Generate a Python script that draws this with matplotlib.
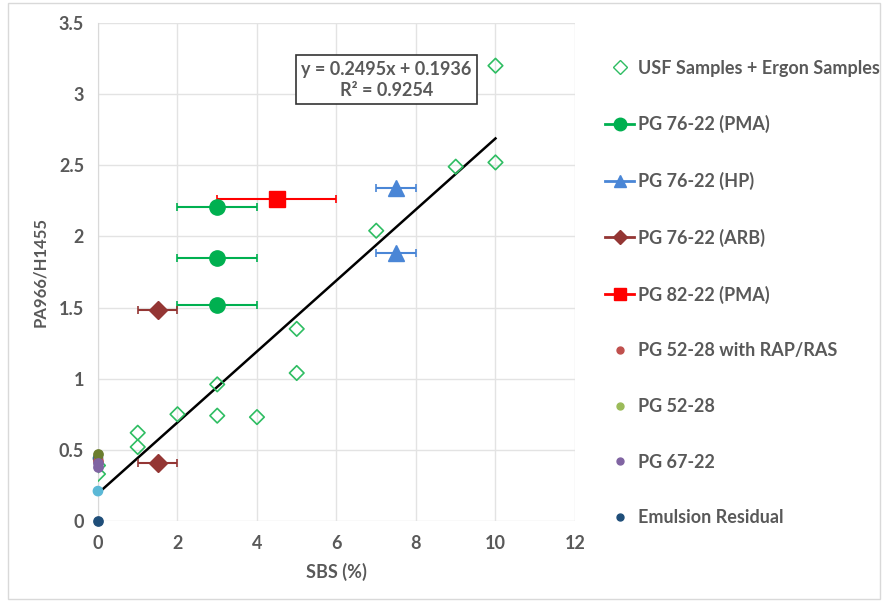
#!/usr/bin/env python3

import matplotlib
matplotlib.use("Agg")
import matplotlib.pyplot as plt
from matplotlib.lines import Line2D
from matplotlib.patches import Rectangle
import numpy as np

plt.rcParams["font.family"] = ["Lato", "DejaVu Sans"]
plt.rcParams["font.weight"] = "bold"
plt.rcParams["axes.labelweight"] = "bold"

GRAY = "#595959"

# USF + Ergon samples (open diamonds)
usf_x = [10, 10, 9, 7, 5, 5, 3, 3, 4, 2, 1, 1, 0, 0]
usf_y = [3.20, 2.52, 2.49, 2.04, 1.35, 1.04, 0.96, 0.74, 0.73, 0.75, 0.62, 0.52, 0.39, 0.33]

# PG 76-22 (PMA)
pma_x = [3, 3, 3]
pma_y = [2.21, 1.85, 1.52]
pma_err = [1, 1, 1]

# PG 76-22 (HP)
hp_x = [7.5, 7.5]
hp_y = [2.34, 1.88]
hp_err = [0.5, 0.5]

# PG 76-22 (ARB)
arb_x = [1.5, 1.5]
arb_y = [1.48, 0.41]
arb_err = [0.5, 0.5]

# PG 82-22 (PMA)
p82_x = [4.5]
p82_y = [2.26]
p82_err = [1.5]

# small dots at SBS = 0
rap_x, rap_y = [0], [0.42]
p5228_x, p5228_y = [0], [0.47]
p6722_x, p6722_y = [0, 0], [0.41, 0.38]
emul_x, emul_y = [0], [0.0]
other_x, other_y = [0, 0], [0.21, 0.44]

# trendline from the chart label
slope, intercept = 0.2495, 0.1936
fit_x = np.array([0, 10])

fig = plt.figure(figsize=(8.85, 6.02), dpi=100)
fig.patches.append(Rectangle((0.009, 0.005), 0.985, 0.99, transform=fig.transFigure,
                             fill=False, edgecolor="#d9d9d9", linewidth=1))
ax = fig.add_axes([0.1107, 0.1346, 0.5390, 0.8272])

ax.plot(fit_x, slope * fit_x + intercept, color="black", linewidth=1.8, zorder=2)

ax.scatter(usf_x, usf_y, marker="D", s=55, facecolors="none", edgecolors="#2ebd62",
           linewidths=1.2, zorder=3)
ax.errorbar(pma_x, pma_y, xerr=pma_err, fmt="o", color="#00b050", ms=11, capsize=3,
            elinewidth=1.5, capthick=1.2, zorder=4)
ax.errorbar(hp_x, hp_y, xerr=hp_err, fmt="^", color="#4a86d6", ms=11, capsize=3,
            elinewidth=1.5, capthick=1.2, zorder=4)
ax.errorbar(arb_x, arb_y, xerr=arb_err, fmt="D", color="#943634", ms=9, capsize=3,
            elinewidth=1.5, capthick=1.2, zorder=4)
ax.errorbar(p82_x, p82_y, xerr=p82_err, fmt="s", color="#ff0000", ms=12, capsize=3,
            elinewidth=1.5, capthick=1.2, zorder=4)

ax.scatter(other_x, other_y, s=45, color=["#5bb8d6", "#3a6a8f"], zorder=3, clip_on=False)
ax.scatter(rap_x, rap_y, s=45, color="#c0504d", zorder=3, clip_on=False)
ax.scatter(p5228_x, p5228_y, s=45, color="#6b7d2e", zorder=3, clip_on=False)
ax.scatter(p6722_x, p6722_y, s=45, color="#8064a2", zorder=3, clip_on=False)
ax.scatter(emul_x, emul_y, s=45, color="#1f4e79", zorder=5, clip_on=False)

ax.set_xlim(0, 12)
ax.set_ylim(0, 3.5)
ax.set_xticks(range(0, 13, 2))
ax.set_yticks(np.arange(0, 3.51, 0.5))
ax.set_yticklabels(["0", "0.5", "1", "1.5", "2", "2.5", "3", "3.5"])
ax.grid(True, color="#e3e3e3", linewidth=1)
ax.set_axisbelow(True)
for s in ["top", "right", "bottom"]:
    ax.spines[s].set_visible(False)
ax.spines["left"].set_color("#d9d9d9")
ax.tick_params(length=0, labelsize=13, labelcolor=GRAY, pad=10)
ax.set_xlabel("SBS (%)", fontsize=13, color=GRAY, labelpad=8)
ax.set_ylabel("PA966/H1455", fontsize=12, color=GRAY, labelpad=8)

ax.text(7.26, 3.10, "y = 0.2495x + 0.1936\nR² = 0.9254", ha="center", va="center",
        fontsize=13, color=GRAY, linespacing=1.3,
        bbox=dict(boxstyle="square,pad=0.3", facecolor="white", edgecolor="#333333", linewidth=1.2))

handles = [
    Line2D([], [], marker="D", ls="none", mfc="none", mec="#2ebd62", ms=7),
    Line2D([], [], marker="o", color="#00b050", lw=2, ms=9),
    Line2D([], [], marker="^", color="#4a86d6", lw=2, ms=9),
    Line2D([], [], marker="D", color="#943634", lw=2, ms=7),
    Line2D([], [], marker="s", color="#ff0000", lw=2, ms=9),
    Line2D([], [], marker="o", ls="none", color="#c0504d", ms=5),
    Line2D([], [], marker="o", ls="none", color="#9bbb59", ms=5),
    Line2D([], [], marker="o", ls="none", color="#8064a2", ms=5),
    Line2D([], [], marker="o", ls="none", color="#1f4e79", ms=5),
]
labels = ["USF Samples + Ergon Samples", "PG 76-22 (PMA)", "PG 76-22 (HP)",
          "PG 76-22 (ARB)", "PG 82-22 (PMA)", "PG 52-28 with RAP/RAS", "PG 52-28",
          "PG 67-22", "Emulsion Residual"]
leg = fig.legend(handles, labels, loc="upper left", bbox_to_anchor=(0.676, 0.913),
                 frameon=False, fontsize=13, labelspacing=2.14, handlelength=1.6,
                 handletextpad=0.2, borderaxespad=0)
for t in leg.get_texts():
    t.set_color(GRAY)

fig.savefig("out.png", dpi=100)
